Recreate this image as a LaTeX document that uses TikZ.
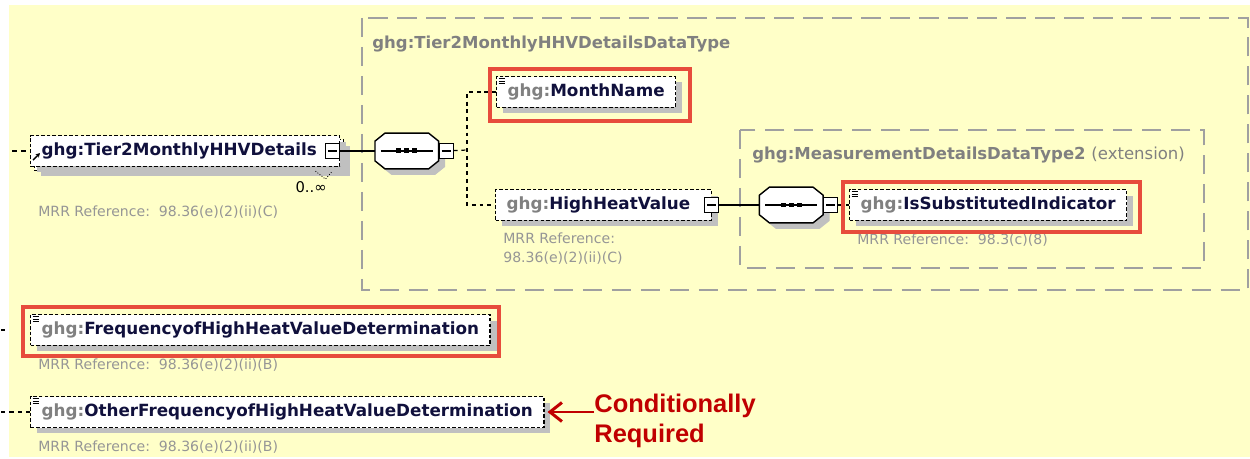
\documentclass[tikz,border=0pt]{standalone}
\usepackage{fontspec}
\setmainfont{DejaVu Sans}
\newfontfamily\notefont{Liberation Sans}
\usepackage{tikz}
\usetikzlibrary{arrows.meta, positioning, shadows, fit}

\definecolor{bgyellow}{RGB}{255,255,200}
\definecolor{navytext}{RGB}{16,16,60}
\definecolor{ghggray}{RGB}{128,128,128}
\definecolor{mrrgray}{RGB}{150,150,150}
\definecolor{grpgray}{RGB}{160,160,160}
\definecolor{shadowgray}{RGB}{192,192,192}
\definecolor{framered}{RGB}{231,76,60}
\definecolor{notered}{RGB}{192,0,0}

\newcommand{\ghg}{\textcolor{ghggray}{ghg:}}
\newcommand{\docmark}[1]{%
  \foreach \k in {0,1,2}{%
    \draw[line width=0.45pt] ([shift={(0.05cm,-0.06cm-\k*0.05cm)}]#1.north west) -- ++(0.13cm,0);}}
% octagon outline of a sequence node, #2 = offset
\newcommand{\seqoutline}[2]{%
  ([shift={#2},xshift=0.2cm]#1.north west) -- ([shift={#2},xshift=-0.2cm]#1.north east)
  -- ([shift={#2},yshift=-0.16cm]#1.north east) -- ([shift={#2},yshift=0.16cm]#1.south east)
  -- ([shift={#2},xshift=-0.2cm]#1.south east) -- ([shift={#2},xshift=0.2cm]#1.south west)
  -- ([shift={#2},yshift=0.16cm]#1.south west) -- ([shift={#2},yshift=-0.16cm]#1.north west)
  -- cycle}
\newcommand{\seqdraw}[1]{%
  \fill[shadowgray] \seqoutline{#1}{(0.13cm,-0.12cm)};
  \draw[line width=0.8pt, fill=white] \seqoutline{#1}{(0cm,0cm)};
  \draw[line width=0.7pt] ([xshift=0.12cm]#1.west) -- ([xshift=-0.12cm]#1.east);
  \foreach \dx in {-0.16,0,0.16}{%
    \fill ([shift={(\dx cm-0.05cm,-0.05cm)}]#1.center)
      rectangle ([shift={(\dx cm+0.05cm,0.05cm)}]#1.center);}}

\begin{document}
\begin{tikzpicture}[
  x=0.02cm, y=-0.02cm,
  elem/.style={draw=black, dash pattern=on 2pt off 1.2pt, line width=0.7pt,
               fill=white, text=navytext, anchor=west, minimum height=0.62cm,
               inner xsep=0.22cm, font=\fontsize{9.55}{11}\selectfont\bfseries,
               drop shadow={shadow xshift=0.13cm, shadow yshift=-0.12cm,
                            fill=shadowgray, opacity=1}},
  seq/.style={minimum width=1.26cm, minimum height=0.7cm, inner sep=0pt},
  minus/.style={draw=black, fill=white, line width=0.6pt, minimum width=0.28cm,
                minimum height=0.3cm, inner sep=0pt,
                path picture={
                  \draw[line width=0.6pt] ([xshift=0.05cm]path picture bounding box.west)
                    -- ([xshift=-0.05cm]path picture bounding box.east);}},
  mrr/.style={text=mrrgray, anchor=north west, inner sep=0pt, align=left,
              font=\fontsize{8}{10.8}\selectfont},
  grptitle/.style={text=ghggray, anchor=base west, inner sep=0pt,
                   font=\fontsize{9.4}{11}\selectfont\bfseries},
  grpbox/.style={draw=grpgray, line width=1pt, dash pattern=on 11pt off 5.5pt},
  conn/.style={draw=black, line width=0.7pt},
  dconn/.style={draw=black, line width=0.7pt, dash pattern=on 2.2pt off 2.2pt},
  redframe/.style={draw=framered, line width=2.2pt, inner sep=0pt},
  reqarr/.style={draw=notered, line width=1.7pt,
                 -{Straight Barb[length=0.24cm, width=0.38cm, line width=1.7pt]}}
]

  % ---------- background ----------
  \useasboundingbox (0,0) rectangle (1250,459);
  \fill[bgyellow] (9,5) rectangle (1250,457);

  % ---------- type groups ----------
  \draw[grpbox] (362,18) rectangle (1248,290);
  \node[grptitle] (tiertype) at (372,49) {ghg:Tier2MonthlyHHVDetailsDataType};

  \draw[grpbox] (740,130) rectangle (1204,268);
  \node[grptitle] (meastype) at (752,160)
    {ghg:MeasurementDetailsDataType2 \textmd{(extension)}};

  % ---------- root element ----------
  \node[elem] (t2back) at (34,155) {\phantom{ghg:Tier2MonthlyHHVDetails}\hspace*{0.24cm}};
  \node[elem] (t2) at (30,151) {ghg:Tier2MonthlyHHVDetails\hspace*{0.24cm}};
  \node[minus] (t2min) at ([xshift=-0.16cm]t2.east) {};
  \draw[-{Stealth[length=2.4pt, width=2.6pt]}, line width=0.8pt]
    ([shift={(0.06cm,0.14cm)}]t2.south west) -- ++(0.14cm,0.14cm);
  \node[anchor=north east, inner sep=0pt, font=\fontsize{8.4}{10}\selectfont]
    (t2occ) at (327,181) {0..∞};
  \draw[densely dotted, line width=0.5pt]
    ([xshift=-0.58cm]t2back.south east) -- ++(0.2cm,-0.16cm) -- ++(0.12cm,0.14cm);
  \node[mrr] (t2ref) at (38,205) {MRR Reference:\ \ 98.36(e)(2)(ii)(C)};

  \coordinate (t2in) at (12,151);
  \draw[dconn, dash pattern=on 2.8pt off 2.4pt] (t2in) -- (t2.west);

  % ---------- sequence 1 ----------
  \node[seq, right=0.7cm of t2min] (seq1) {};
  \seqdraw{seq1}
  \node[minus, right=0pt of seq1] (s1min) {};
  \draw[conn] (t2min) -- (seq1);

  \node[elem] (mname) at (496,92) {\ghg MonthName};
  \node[elem] (hhv) at (495,205) {\ghg HighHeatValue\hspace*{0.2cm}};
  \node[minus] (hhvmin) at (hhv.east) {};
  \node[mrr] (hhvref) at (503,232) {MRR Reference:\\98.36(e)(2)(ii)(C)};

  \coordinate (br1) at (467,150);
  \draw[dconn] (s1min) -- (br1);
  \draw[dconn] (mname.west) -| (br1) |- (hhv.west);

  % ---------- sequence 2 ----------
  \node[seq, right=0.8cm of hhvmin] (seq2) {};
  \seqdraw{seq2}
  \node[minus, right=0pt of seq2] (s2min) {};
  \draw[conn] (hhvmin) -- (seq2);

  \node[elem] (isi) at (849,205) {\ghg IsSubstitutedIndicator};
  \node[mrr] (isiref) at (857,233) {MRR Reference:\ \ 98.3(c)(8)};
  \draw[dconn] (s2min) -- (isi.west);

  % ---------- frequency elements ----------
  \node[elem] (freq) at (30,330) {\ghg FrequencyofHighHeatValueDetermination};
  \node[mrr] (freqref) at (38,358) {MRR Reference:\ \ 98.36(e)(2)(ii)(B)};
  \coordinate (freqin) at (1,330);
  \draw[conn] (freqin) -- ++(0.09cm,0);

  \node[elem] (ofreq) at (30,412) {\ghg OtherFrequencyofHighHeatValueDetermination};
  \node[mrr] (ofreqref) at (38,440) {MRR Reference:\ \ 98.36(e)(2)(ii)(B)};
  \coordinate (ofreqin) at (1,412);
  \draw[dconn, dash pattern=on 2.4pt off 2.4pt] (ofreqin) -- (ofreq.west);

  \docmark{mname}
  \docmark{isi}
  \docmark{freq}
  \docmark{ofreq}

  % ---------- highlighted elements ----------
  \node[redframe, fit={([shift={(-0.12cm,0.14cm)}]mname.north west)
                       ([shift={(0.28cm,-0.26cm)}]mname.south east)}] (mnameframe) {};
  \node[redframe, fit={([shift={(-0.12cm,0.14cm)}]isi.north west)
                       ([shift={(0.26cm,-0.22cm)}]isi.south east)}] (isiframe) {};
  \node[redframe, fit={([shift={(-0.14cm,0.14cm)}]freq.north west)
                       ([shift={(0.16cm,-0.2cm)}]freq.south east)}] (freqframe) {};

  % ---------- note ----------
  \node[anchor=west, align=left, inner sep=0pt, text=notered,
        font=\notefont\fontsize{14.5}{17}\selectfont\bfseries]
    (condreq) at (594,421) {Conditionally\\Required};
  \draw[reqarr] (ofreq.east -| condreq.west) -- ([xshift=0.06cm]ofreq.east);

\end{tikzpicture}
\end{document}
